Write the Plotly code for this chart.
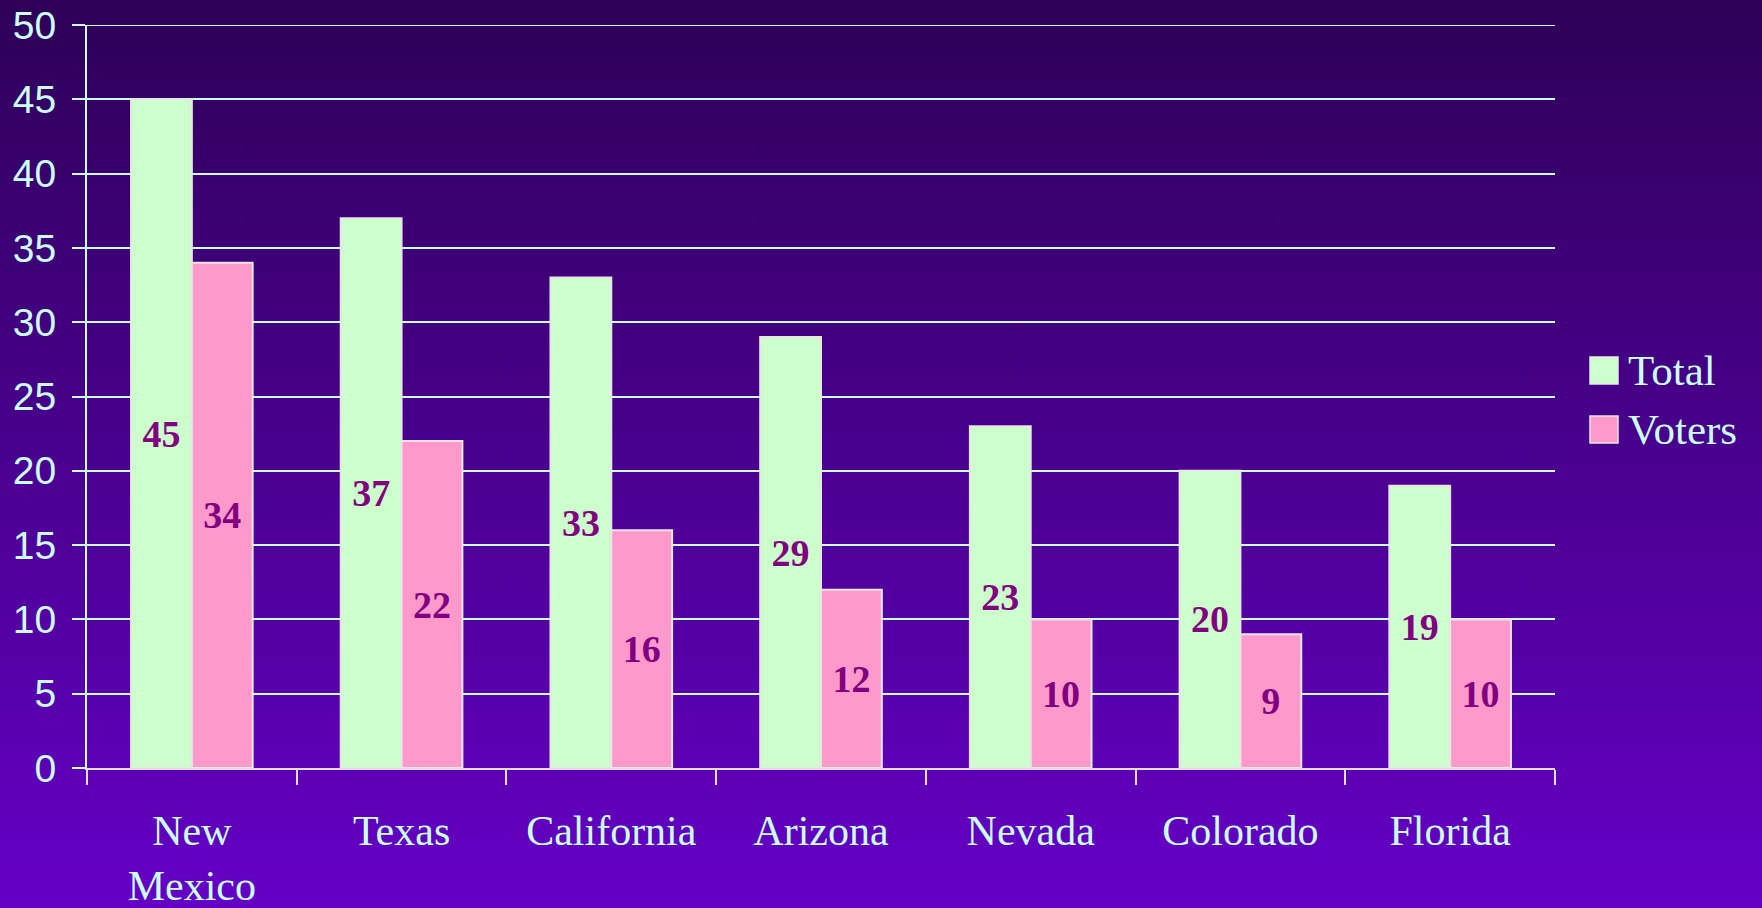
import base64
import plotly.graph_objects as go

states = ["New<br>Mexico", "Texas", "California", "Arizona", "Nevada", "Colorado", "Florida"]
total = [45, 37, 33, 29, 23, 20, 19]
voters = [34, 22, 16, 12, 10, 9, 10]
series_names = ["Total", "Voters"]
y_ticks = [0, 5, 10, 15, 20, 25, 30, 35, 40, 45, 50]

W, H = 1762, 908
ML, MR, MT, MB = 87, 207, 25, 140
PW, PH = W - ML - MR, H - MT - MB

GREEN = "#CCFFCC"
PINK = "#FF99CC"
CYAN = "#CCFFFF"
LABEL = "#800080"
SERIF = "Liberation Serif, Times New Roman, serif"
SANS = "Liberation Sans, Arial, sans-serif"

svg = (
    '<svg xmlns="http://www.w3.org/2000/svg" width="100" height="100" preserveAspectRatio="none">'
    '<defs><linearGradient id="g" x1="0" y1="0" x2="0" y2="1">'
    '<stop offset="0" stop-color="#2E0057"/><stop offset="1" stop-color="#6500C6"/>'
    '</linearGradient></defs><rect width="100" height="100" fill="url(#g)"/></svg>'
)
bg_src = "data:image/svg+xml;base64," + base64.b64encode(svg.encode()).decode()

fig = go.Figure()
for name, vals, col in [(series_names[0], total, GREEN), (series_names[1], voters, PINK)]:
    fig.add_trace(go.Bar(
        x=states, y=vals, name=name,
        marker=dict(color=col, line=dict(color="#E6E6E6", width=2)),
        text=[str(v) for v in vals], textposition="inside", insidetextanchor="middle",
        textangle=0,
        textfont=dict(family=SERIF, size=38, color=LABEL, weight="bold"),
        showlegend=False,
    ))

px = lambda x: (x - ML) / PW
py = lambda y: 1 - (y - MT) / PH

shapes = [dict(type="line", xref="paper", yref="y", x0=-13 / PW, x1=1, y0=50, y1=50,
               line=dict(color=CYAN, width=2), layer="below")]
annotations = []
for i, (name, col) in enumerate([(series_names[0], GREEN), (series_names[1], PINK)]):
    top = 357 + i * 59
    shapes.append(dict(type="rect", xref="paper", yref="paper",
                       x0=px(1590), x1=px(1618), y0=py(top + 27), y1=py(top),
                       fillcolor=col, line=dict(color="#E6E6E6", width=1.5)))
    annotations.append(dict(text=name, xref="paper", yref="paper", x=px(1626), y=py(top + 13),
                            xanchor="left", yanchor="middle", showarrow=False,
                            font=dict(family=SERIF, size=43, color=CYAN)))

fig.update_layout(
    width=W, height=H,
    margin=dict(l=ML, r=MR, t=MT, b=MB, pad=0, autoexpand=False),
    paper_bgcolor="#4A0090",
    plot_bgcolor="rgba(0,0,0,0)",
    barmode="group", bargap=0.42, bargroupgap=0,
    showlegend=False,
    images=[dict(source=bg_src, xref="paper", yref="paper",
                 x=-ML / PW, y=1 + MT / PH, sizex=W / PW, sizey=H / PH,
                 sizing="stretch", layer="below", xanchor="left", yanchor="top")],
    shapes=shapes,
    annotations=annotations,
    xaxis=dict(
        automargin=False,
        tickson="boundaries", ticks="outside", ticklen=15, tickwidth=2, tickcolor="#E0E0E0",
        showline=True, linecolor="#E0E0E0", linewidth=2,
        showgrid=False, zeroline=False,
        tickfont=dict(family=SERIF, size=42, color=CYAN),
        ticklabelstandoff=25,
    ),
    yaxis=dict(
        automargin=False,
        range=[0, 50], tickvals=y_ticks, ticks="outside", ticklen=13, tickwidth=2, tickcolor=CYAN,
        showline=True, linecolor=CYAN, linewidth=2,
        showgrid=True, gridcolor=CYAN, gridwidth=2, zeroline=False,
        tickfont=dict(family=SANS, size=39, color=CYAN),
        ticklabelstandoff=8,
    ),
)

fig.write_html("out.html", config={"displayModeBar": False},
               post_script="document.body.style.margin='0';document.body.style.background='#6500C6';")
